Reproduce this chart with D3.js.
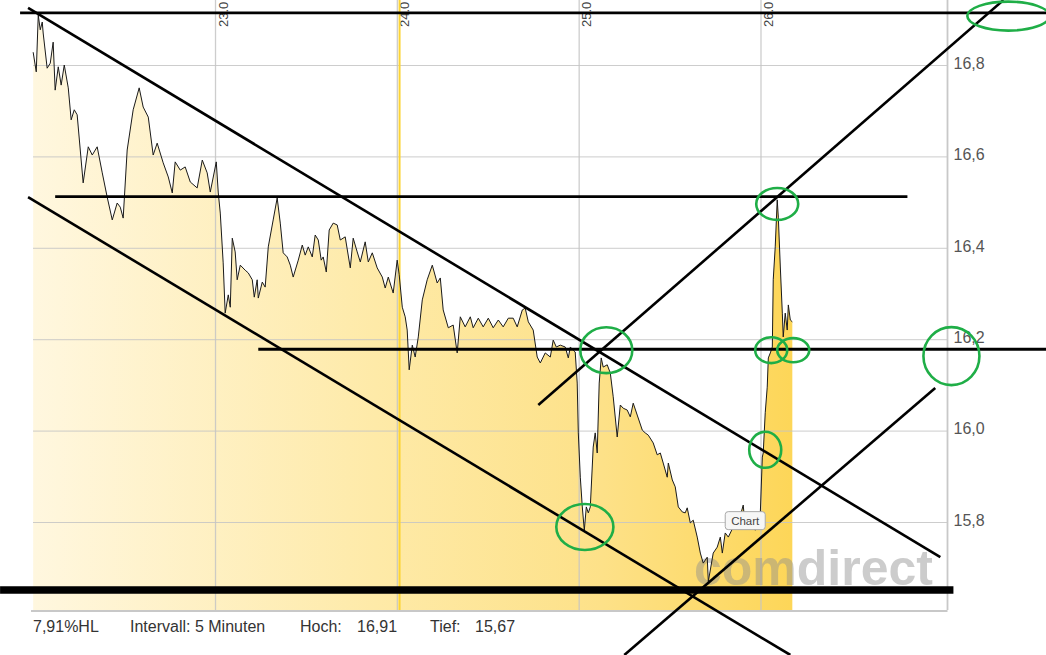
<!DOCTYPE html>
<html><head><meta charset="utf-8">
<script src="https://cdn.jsdelivr.net/npm/d3@7"></script>
<style>html,body{margin:0;padding:0;background:#fff;overflow:hidden}svg{display:block}</style>
</head><body><svg id="c" width="1046" height="655"></svg>
<script>
// ---- data (day of month as fractional position, price in EUR) ----
const times = [
22.000,22.017,22.028,22.039,22.050,22.055,22.077,22.094,22.110,22.121,
22.138,22.154,22.171,22.193,22.209,22.226,22.242,22.259,22.275,22.303,
22.325,22.352,22.380,22.407,22.435,22.462,22.479,22.495,22.517,22.550,
22.583,22.605,22.633,22.660,22.682,22.715,22.743,22.765,22.781,22.809,
22.836,22.864,22.902,22.930,22.957,22.974,23.007,23.018,23.029,23.045,
23.056,23.073,23.084,23.095,23.111,23.122,23.139,23.166,23.183,23.205,
23.216,23.232,23.238,23.260,23.276,23.293,23.320,23.342,23.359,23.375,
23.397,23.414,23.430,23.458,23.480,23.496,23.513,23.535,23.551,23.568,
23.584,23.595,23.612,23.628,23.650,23.672,23.689,23.716,23.744,23.760,
23.782,23.799,23.826,23.843,23.865,23.892,23.920,23.936,23.953,23.980,
24.002,24.013,24.030,24.046,24.057,24.068,24.085,24.101,24.118,24.140,
24.167,24.195,24.222,24.239,24.255,24.283,24.310,24.332,24.349,24.376,
24.404,24.420,24.448,24.475,24.503,24.530,24.558,24.585,24.613,24.640,
24.662,24.690,24.706,24.723,24.750,24.772,24.789,24.816,24.844,24.860,
24.877,24.899,24.926,24.943,24.954,24.970,24.981,24.992,24.998,25.009,
25.020,25.031,25.042,25.053,25.064,25.080,25.091,25.102,25.113,25.124,
25.135,25.157,25.174,25.190,25.212,25.229,25.245,25.267,25.284,25.300,
25.322,25.350,25.366,25.383,25.410,25.432,25.449,25.465,25.487,25.493,
25.515,25.531,25.548,25.570,25.586,25.597,25.614,25.630,25.652,25.669,
25.685,25.707,25.713,25.724,25.740,25.762,25.779,25.790,25.806,25.823,
25.850,25.878,25.905,25.916,25.944,25.971,25.999,26.010,26.015,26.026,
26.037,26.043,26.054,26.065,26.070,26.081,26.092,26.098,26.109,26.120,
26.125,26.136,26.147,26.153,26.164,26.175];
const prices = [
16.828,16.785,16.909,16.877,16.894,16.870,16.793,16.804,16.850,16.745,
16.796,16.756,16.800,16.750,16.680,16.702,16.691,16.614,16.542,16.621,
16.603,16.621,16.564,16.511,16.461,16.498,16.489,16.465,16.614,16.702,
16.750,16.708,16.686,16.603,16.629,16.586,16.555,16.520,16.588,16.570,
16.577,16.544,16.531,16.592,16.564,16.522,16.588,16.520,16.476,16.367,
16.257,16.297,16.270,16.421,16.391,16.330,16.362,16.351,16.345,16.330,
16.292,16.330,16.290,16.325,16.314,16.402,16.461,16.509,16.454,16.389,
16.380,16.362,16.336,16.373,16.406,16.384,16.402,16.380,16.428,16.417,
16.373,16.380,16.347,16.439,16.454,16.450,16.417,16.424,16.356,16.421,
16.391,16.369,16.413,16.369,16.389,16.356,16.336,16.312,16.336,16.301,
16.373,16.341,16.270,16.249,16.220,16.133,16.187,16.161,16.205,16.286,
16.330,16.362,16.323,16.334,16.264,16.225,16.231,16.170,16.249,16.227,
16.249,16.225,16.246,16.227,16.246,16.225,16.242,16.227,16.246,16.246,
16.227,16.264,16.268,16.238,16.220,16.161,16.148,16.170,16.161,16.198,
16.183,16.187,16.183,16.159,16.183,16.176,16.172,16.104,15.995,15.898,
15.833,15.782,15.833,15.820,15.833,15.964,15.995,15.951,16.104,16.159,
16.139,16.144,16.126,16.074,15.986,16.056,16.049,16.045,16.030,16.060,
16.034,16.001,15.995,15.990,15.973,15.947,15.951,15.929,15.898,15.929,
15.892,15.877,15.833,15.822,15.820,15.831,15.798,15.804,15.767,15.732,
15.710,15.723,15.670,15.695,15.732,15.745,15.767,15.732,15.776,15.767,
15.789,15.798,15.837,15.789,15.793,15.782,15.820,15.942,15.951,16.039,
16.095,16.159,16.170,16.183,16.330,16.402,16.505,16.467,16.358,16.257,
16.205,16.257,16.220,16.275,16.242,16.238];

const yTicks = [15.8, 16.0, 16.2, 16.4, 16.6, 16.8];
const xTicks = [23, 24, 25, 26];
const xTickLabels = ["23.0", "24.0", "25.0", "26.0"];
const markerDay = 24.015;
const infoLabels = ["7,91%HL", "Intervall: 5 Minuten", "Hoch:", "16,91", "Tief:", "15,67"];
const tooltipText = "Chart";
const tooltipAnchor = [25.916, 15.803];
const watermark = "comdirect";

// hand-drawn annotations, in data space: [price, fromDay, toDay]
const levelLines = [[16.914, 21.928, 27.572], [16.512, 22.121, 26.808], [16.178, 23.238, 27.572]];
const supportLine = [15.651, 21.818, 27.061];
// [day1, price1, day2, price2]
const trendLines = [
  [21.972, 16.925, 26.989, 15.723],
  [21.972, 16.511, 26.164, 15.509],
  [24.778, 16.056, 27.336, 16.942],
  [25.251, 15.509, 26.961, 16.093]];
// [day, price, radiusDays, radiusPrice]
const circles = [
  [27.363, 16.907, 0.2255, 0.0317],
  [25.152, 16.176, 0.143, 0.0503],
  [25.034, 15.789, 0.157, 0.0503],
  [26.092, 16.496, 0.1155, 0.035],
  [26.059, 16.176, 0.088, 0.0284],
  [26.180, 16.176, 0.088, 0.0263],
  [26.026, 15.958, 0.088, 0.0394],
  [27.050, 16.163, 0.154, 0.0635]];

// ---- layout ----
const W = 1046, H = 655;
const plotLeft = 33, plotRight = 947.5, plotBottom = 610;
const x = d3.scaleLinear().domain([23, 26]).range([215, 760.5]);
const y = d3.scaleLinear().domain([15.8, 16.8]).range([522, 65]);
const FONT = "'Liberation Sans', Arial, sans-serif";

const svg = d3.select("#c");
const defs = svg.append("defs");
const grad = defs.append("linearGradient").attr("id", "fillGrad")
  .attr("gradientUnits", "userSpaceOnUse")
  .attr("x1", plotLeft).attr("x2", x(26.18)).attr("y1", 0).attr("y2", 0);
grad.append("stop").attr("offset", "0").attr("stop-color", "#fff7df");
grad.append("stop").attr("offset", "0.45").attr("stop-color", "#feeaa8");
grad.append("stop").attr("offset", "0.75").attr("stop-color", "#fde188");
grad.append("stop").attr("offset", "1").attr("stop-color", "#fdd658");
defs.append("clipPath").attr("id", "plotClip").append("rect")
  .attr("x", 0).attr("y", 0).attr("width", W).attr("height", H);

svg.append("rect").attr("width", W).attr("height", H).attr("fill", "#fff");

const data = times.map((t, i) => ({t, p: prices[i]}));

// area
svg.append("path").datum(data)
  .attr("fill", "url(#fillGrad)")
  .attr("d", d3.area().x(d => x(d.t)).y0(plotBottom).y1(d => y(d.p)));

// horizontal grid + right labels
const yAxis = d3.axisRight(y).tickValues(yTicks)
  .tickSize(-(plotRight - plotLeft)).tickPadding(6)
  .tickFormat(v => d3.format(".1f")(v).replace(".", ","));
const gy = svg.append("g").attr("transform", `translate(${plotRight},0)`).call(yAxis);
gy.select(".domain").remove();
gy.selectAll(".tick line").attr("stroke", "#c4c4c4").attr("stroke-opacity", 0.85);
gy.selectAll(".tick text").attr("font-family", FONT).attr("font-size", 16)
  .attr("fill", "#555").attr("dy", "0.2em");

// vertical grid + rotated top labels
const xAxis = d3.axisTop(x).tickValues(xTicks).tickSize(plotBottom)
  .tickFormat((d, i) => xTickLabels[i]);
const gx = svg.append("g").attr("transform", `translate(0,${plotBottom})`).call(xAxis);
gx.select(".domain").remove();
gx.selectAll(".tick line").attr("stroke", "#c4c4c4").attr("stroke-width", 1.3).attr("stroke-opacity", 0.85);
gx.selectAll(".tick text")
  .attr("transform", "rotate(-90)")
  .attr("x", plotBottom - 27).attr("y", 12).attr("dy", 0)
  .attr("text-anchor", "start")
  .attr("font-family", FONT).attr("font-size", 13).attr("fill", "#444");

// yellow day marker
svg.append("line").attr("x1", x(markerDay)).attr("x2", x(markerDay))
  .attr("y1", 0).attr("y2", plotBottom).attr("stroke", "#fcd434").attr("stroke-width", 2);

// axis frame lines
svg.append("line").attr("x1", plotRight).attr("x2", plotRight).attr("y1", 0).attr("y2", plotBottom)
  .attr("stroke", "#c8c8c8").attr("stroke-width", 1.8);
svg.append("line").attr("x1", plotLeft - 2).attr("x2", plotRight).attr("y1", plotBottom + 1).attr("y2", plotBottom + 1)
  .attr("stroke", "#c8c8c8").attr("stroke-width", 2);

// watermark
svg.append("text").attr("x", 694).attr("y", 585).text(watermark)
  .attr("font-family", FONT).attr("font-weight", "bold").attr("font-size", 50)
  .attr("fill", "#8f8f8f").attr("fill-opacity", 0.45);

// price line
svg.append("path").datum(data)
  .attr("fill", "none").attr("stroke", "#1a1a1a").attr("stroke-width", 1)
  .attr("stroke-linejoin", "round")
  .attr("d", d3.line().x(d => x(d.t)).y(d => y(d.p)));

// info labels
const infoX = [33, 130, 300, 357, 430, 475];
svg.append("g").selectAll("text").data(infoLabels).join("text")
  .attr("x", (d, i) => infoX[i]).attr("y", 632)
  .attr("font-family", FONT).attr("font-size", 16).attr("fill", "#333")
  .text(d => d);

// tooltip
const tx = x(tooltipAnchor[0]), ty = y(tooltipAnchor[1]);
const tip = svg.append("g");
tip.append("rect").attr("x", tx - 20).attr("y", ty - 9).attr("width", 40).attr("height", 18)
  .attr("rx", 3).attr("fill", "#f6f6f6").attr("stroke", "#a8a8a8").attr("stroke-width", 1);
tip.append("text").attr("x", tx).attr("y", ty + 4).attr("text-anchor", "middle")
  .attr("font-family", FONT).attr("font-size", 11.5).attr("fill", "#444").text(tooltipText);

// annotations
const ann = svg.append("g").attr("clip-path", "url(#plotClip)");
ann.selectAll(".lvl").data(levelLines).join("line").attr("class", "lvl")
  .attr("x1", d => x(d[1])).attr("x2", d => x(d[2]))
  .attr("y1", d => y(d[0])).attr("y2", d => y(d[0]))
  .attr("stroke", "#000").attr("stroke-width", 2.8);
ann.append("line")
  .attr("x1", x(supportLine[1])).attr("x2", x(supportLine[2]))
  .attr("y1", y(supportLine[0])).attr("y2", y(supportLine[0]))
  .attr("stroke", "#000").attr("stroke-width", 7.5);
ann.selectAll(".trd").data(trendLines).join("line").attr("class", "trd")
  .attr("x1", d => x(d[0])).attr("y1", d => y(d[1]))
  .attr("x2", d => x(d[2])).attr("y2", d => y(d[3]))
  .attr("stroke", "#000").attr("stroke-width", 2.6);
ann.selectAll("ellipse").data(circles).join("ellipse")
  .attr("cx", d => x(d[0])).attr("cy", d => y(d[1]))
  .attr("rx", d => x(d[0] + d[2]) - x(d[0]))
  .attr("ry", d => y(d[1]) - y(d[1] + d[3]))
  .attr("fill", "none").attr("stroke", "#1fae47").attr("stroke-width", 2.6);
</script></body></html>
